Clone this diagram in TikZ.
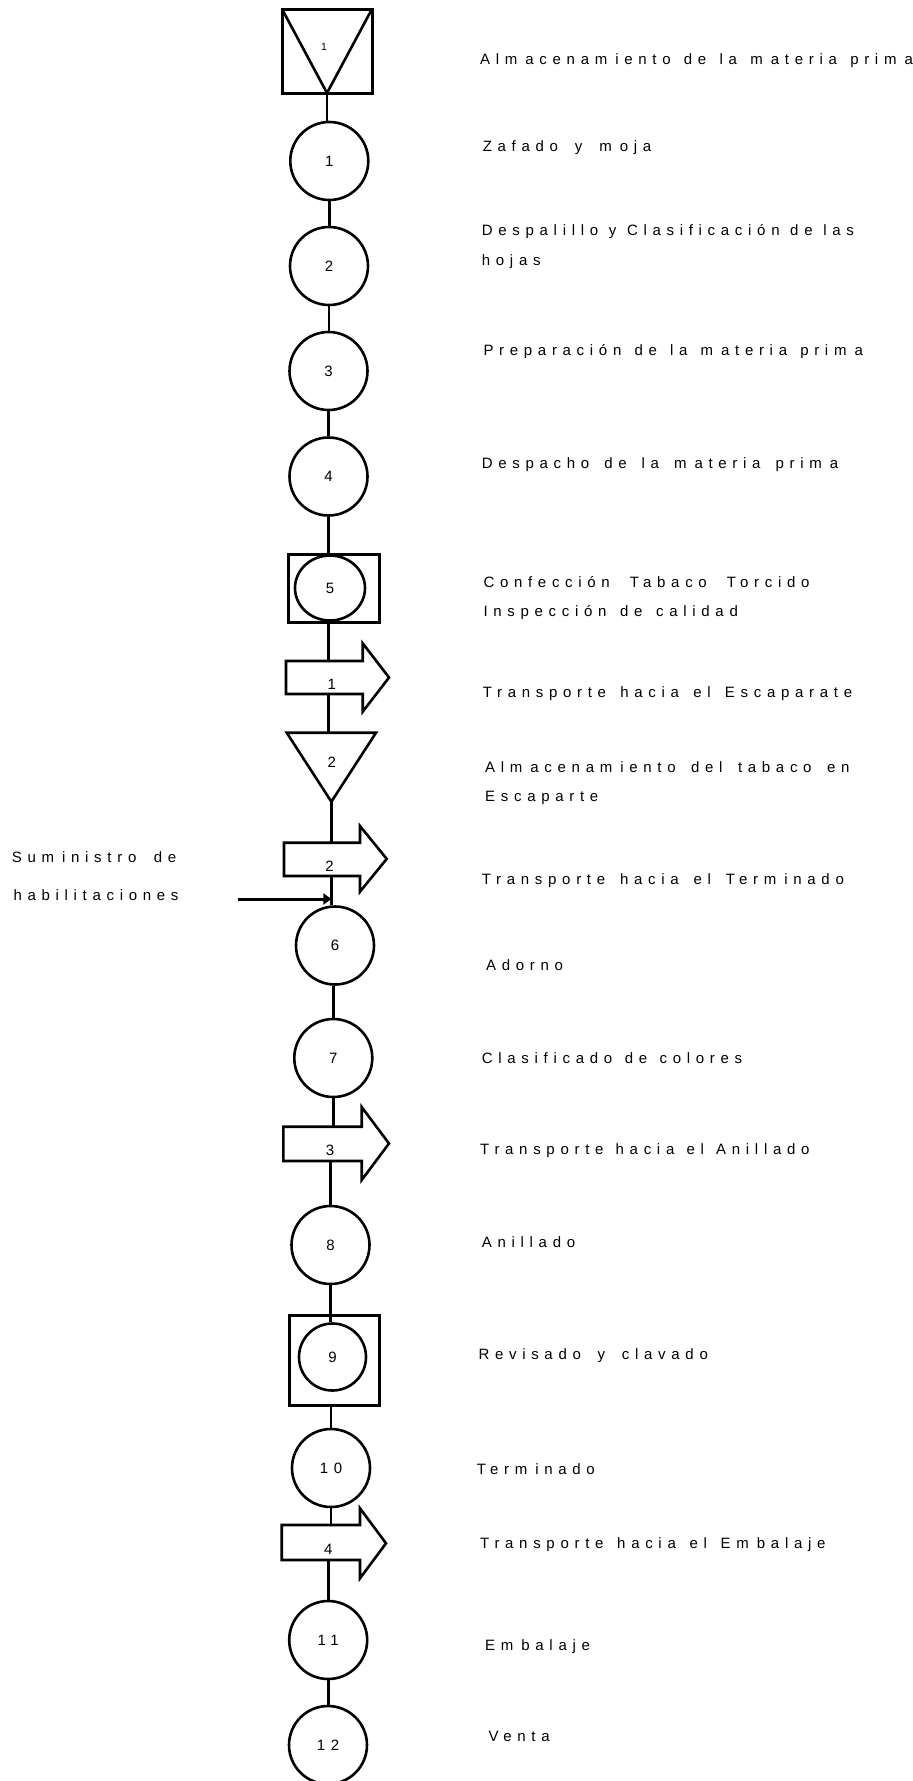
\documentclass[tikz,border=0pt]{standalone}
\usepackage{fontspec}
\setmainfont{Liberation Sans}
\newfontfamily\lsf[LetterSpace=38]{Liberation Sans}
\usetikzlibrary{fit,shapes.geometric,arrows.meta}
\newcommand\txtf{\lsf\fontsize{15}{18}\selectfont}
\newcommand\smallf{\lsf\fontsize{10.5}{12}\selectfont}
\newcommand\mk{\kern8pt}
\newcommand\sw[2]{\makebox[#1pt][s]{\spaceskip=0.3em plus 1fil\relax #2}}
\newcommand\transp[9]{%
  \node[inner sep=0pt, outer sep=0pt, fit={(#2,#4) (#3,#5)}] (#1) {};
  \draw[shp] (#1.north west) -- (#1.north east) -- (#3,#6) -- ({#8},{(#6+#7)/2}) -- (#3,#7) -- (#1.south east) -- (#1.south west) -- cycle;
  \node[num] at ([shift={(7.5,6.5)}]#1.center) {#9};
}
\begin{document}
\begin{tikzpicture}[x=1pt,y=-1pt,
  shp/.style={draw, line width=2.6pt, line join=miter},
  ln/.style={line width=2.6pt},
  opc/.style={circle, draw, line width=2.6pt, minimum size=78pt, inner sep=0pt, font=\txtf},
  insp/.style={draw, line width=3pt, inner sep=0pt, outer sep=0pt},
  num/.style={inner sep=0pt, font=\txtf},
  lab/.style={anchor=base west, inner sep=0pt, font=\txtf},
  arr/.style={line width=3pt, -{Triangle[length=8pt,width=11pt]}}]
\useasboundingbox (0,0) rectangle (913,1781);
\fill[white] (0,0) rectangle (913,1781);

% storage 1
\node[insp, fit={(282,9) (372,93)}] (s1) {};
\draw[ln, line join=miter] (s1.north west) -- (s1.south) -- (s1.north east);
\node[inner sep=0pt, font=\smallf] (s1l) at (324,47) {1};

% operations 1-4
\node[opc] (c1) at (329.3,161) {1};
\node[opc] (c2) at (329,266) {2};
\node[opc] (c3) at (328.5,371) {3};
\node[opc] (c4) at (328.5,476.5) {4};

% operation-inspection 5
\node[insp, fit={(288.3,554) (379,622)}] (b5) {};
\node[ellipse, draw, line width=2.6pt, minimum width=70pt, minimum height=65pt, inner sep=0pt, font=\txtf] (c5) at (330,588) {5};

% transport 1
\transp{t1}{286}{362.7}{661}{694}{643.3}{711.7}{389}{1}

% storage 2
\node[inner sep=0pt, outer sep=0pt, fit={(286.7,732.7) (376,801.7)}] (tri2) {};
\draw[shp] (tri2.north west) -- (tri2.north east) -- (tri2.south) -- cycle;
\node[num] (tri2l) at (331.7,762) {2};

% transport 2
\transp{t2}{284}{360}{842.7}{876}{826}{891.7}{386.7}{2}

% operations 6-7
\node[opc] (c6) at (335,945.5) {6};
\node[opc] (c7) at (333.3,1058) {7};

% transport 3
\transp{t3}{283.3}{361.7}{1126.7}{1161}{1107}{1180}{389}{3}

% operation 8
\node[opc] (c8) at (330.5,1245) {8};

% operation-inspection 9
\node[insp, fit={(289.3,1315) (379,1405.7)}] (b9) {};
\node[circle, draw, line width=2.6pt, minimum size=67pt, inner sep=0pt, font=\txtf] (c9) at (332.5,1357) {9};

% operation 10
\node[opc] (c10) at (331,1468) {10};

% transport 4
\transp{t4}{281.7}{360}{1525}{1560}{1508.3}{1578.3}{386}{4}

% operations 11-12
\node[opc] (c11) at (328.2,1640) {11};
\node[opc] (c12) at (328,1745) {12};

% connectors
\draw[ln] (s1.south) -- (s1.south |- c1.north);
\draw[ln] (c1.south) -- (c1.south |- c2.north);
\draw[ln] (c2.south) -- (c2.south |- c3.north);
\draw[ln] (c3.south) -- (c3.south |- c4.north);
\draw[ln] (c4.south) -- (c4.south |- c5.north);
\draw[ln] (c4.south |- b5.south) -- (c4.south |- t1.north);
\draw[ln] (c4.south |- t1.south) -- (c4.south |- tri2.north);
\draw[ln] (tri2.south) -- (tri2.south |- t2.north);
\draw[ln] (tri2.south |- t2.south) -- (tri2.south |- c6.north);
\draw[ln] (c6.south -| c7.north) -- (c7.north);
\draw[ln] (c7.south) -- (c7.south |- t3.north);
\draw[ln] (c8.north |- t3.south) -- (c8.north);
\draw[ln] (c8.south) -- (c8.south |- c9.north);
\draw[ln] (c10.north |- b9.south) -- (c10.north);
\draw[ln] (c10.south) -- (c10.south |- t4.north);
\draw[ln] (c11.north |- t4.south) -- (c11.north);
\draw[ln] (c11.south) -- (c11.south |- c12.north);

% supply arrow
\coordinate (sup) at (237.7,899);
\draw[arr] (sup) -- (sup -| tri2.south);
\node[lab] (l1a) at (11.7,862.7) {\sw{164.3}{Sum\mk inistro de}};
\node[lab] (l1b) at (13.3,900) {habilitaciones};

% descriptions
\node[lab] (r1) at (480,64) {\sw{432.7}{Alm\mk acenam\mk iento de la m\mk ateria prim\mk a}};
\node[lab] (r2) at (482.6,151) {\sw{168.4}{Zafado y m\mk oja}};
\node[lab] (r3a) at (481.7,235) {\sw{372}{Despalillo y Clasificación de las}};
\node[lab] (r3b) at (481.7,265) {hojas};
\node[lab] (r4) at (483.3,355) {\sw{379.4}{Preparación de la m\mk ateria prim\mk a}};
\node[lab] (r5) at (481.7,468.3) {\sw{356.3}{Despacho de la m\mk ateria prim\mk a}};
\node[lab] (r6a) at (483.3,587.7) {\sw{326}{Confección Tabaco Torcido}};
\node[lab] (r6b) at (483.3,616.7) {\sw{254.4}{Inspección de calidad}};
\node[lab] (r7) at (482.6,697) {\sw{369.4}{Transporte hacia el Escaparate}};
\node[lab] (r8a) at (485,772.3) {\sw{364.3}{Alm\mk acenam\mk iento del tabaco en}};
\node[lab] (r8b) at (485,801) {Escaparte};
\node[lab] (r9) at (481.7,884) {\sw{362}{Transporte hacia el Term\mk inado}};
\node[lab] (r10) at (486,970) {Adorno};
\node[lab] (r11) at (481.7,1063.3) {\sw{260.3}{Clasificado de colores}};
\node[lab] (r12) at (480,1154.3) {\sw{329.3}{Transporte hacia el Anillado}};
\node[lab] (r13) at (481.7,1247) {Anillado};
\node[lab] (r14) at (478.3,1359.5) {\sw{229.4}{Revisado y clavado}};
\node[lab] (r15) at (476.7,1474) {Term\mk inado};
\node[lab] (r16) at (480,1548.8) {\sw{345.3}{Transporte hacia el Em\mk balaje}};
\node[lab] (r17) at (485,1650) {Em\mk balaje};
\node[lab] (r18) at (488.3,1741) {Venta};
\end{tikzpicture}
\end{document}
